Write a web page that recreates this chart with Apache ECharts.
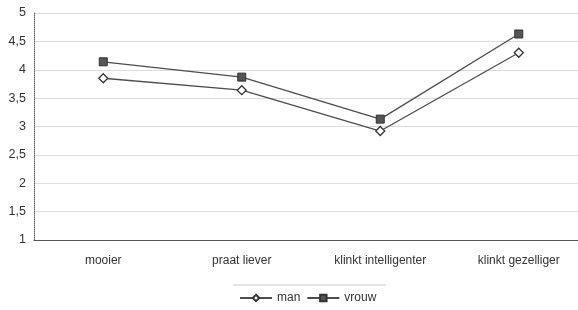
<!DOCTYPE html>
<html>
<head>
<meta charset="utf-8">
<title>man vrouw</title>
<script src="https://cdn.jsdelivr.net/npm/echarts@6/dist/echarts.min.js"></script>
</head>
<body style="margin:0;background:#fff;overflow:hidden;">
<!-- het plotvlak loopt in het origineel rechts buiten beeld, dus de div is iets breder -->
<div id="main" style="width:590px;height:310px;"></div>
<script type="text/javascript">
    // categorieën en waarden
    var categories = ['mooier', 'praat liever', 'klinkt intelligenter', 'klinkt gezelliger'];
    var manValues = [3.85, 3.64, 2.92, 4.30];
    var vrouwValues = [4.14, 3.87, 3.13, 4.63];
    var yTicks = ['1', '1,5', '2', '2,5', '3', '3,5', '4', '4,5', '5'];

    var myChart = echarts.init(document.getElementById('main'));
    var lineColor = '#4d4d4d';
    var option = {
        animation: false,
        textStyle: { fontFamily: 'Liberation Sans, Arial, sans-serif' },
        grid: { left: 34, top: 13, width: 554, height: 227, containLabel: false },
        xAxis: {
            type: 'category',
            data: categories,
            boundaryGap: true,
            axisLine: { lineStyle: { color: '#555', width: 1 } },
            axisTick: { show: false },
            axisLabel: { color: '#333', fontSize: 12, margin: 15 }
        },
        yAxis: {
            type: 'value',
            min: 1,
            max: 5,
            interval: 0.5,
            axisLine: { show: true, lineStyle: { color: '#666', type: 'dotted' } },
            axisTick: { show: false },
            axisLabel: {
                color: '#333', fontSize: 12.5, margin: 8,
                formatter: function (v) { return yTicks[Math.round((v - 1) * 2)]; }
            },
            splitLine: {
                lineStyle: { color: '#dcdcdc', width: 1 }
            }
        },
        legend: {
            bottom: 1,
            left: 234,
            itemWidth: 32,
            itemHeight: 8,
            itemGap: 6,
            textStyle: { color: '#333', fontSize: 12 },
            data: ['man', 'vrouw']
        },
        graphic: [{
            type: 'line',
            shape: { x1: 233, y1: 285, x2: 386, y2: 285 },
            style: { stroke: '#c8c8c8', lineWidth: 1 }
        }, {
            type: 'line',
            shape: { x1: 34, y1: 13.5, x2: 588, y2: 13.5 },
            style: { stroke: '#777', lineWidth: 1, lineDash: [2, 1] }
        }],
        series: [{
            name: 'man',
            type: 'line',
            data: manValues,
            symbol: 'diamond',
            symbolSize: 9,
            color: lineColor,
            lineStyle: { color: lineColor, width: 1.3 },
            itemStyle: { color: '#fff', borderColor: '#333', borderWidth: 1.3 }
        }, {
            name: 'vrouw',
            type: 'line',
            data: vrouwValues,
            symbol: 'rect',
            symbolSize: 8,
            color: lineColor,
            lineStyle: { color: lineColor, width: 1.3 },
            itemStyle: { color: '#555', borderColor: '#333', borderWidth: 1 }
        }]
    };
    myChart.setOption(option);
</script>
</body>
</html>
